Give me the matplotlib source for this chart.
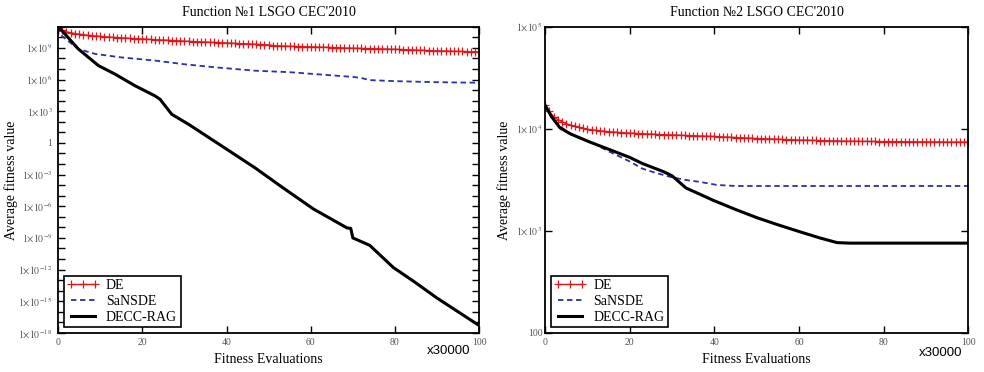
import numpy as np
import matplotlib
matplotlib.use("Agg")
import matplotlib.pyplot as plt
from matplotlib.ticker import FixedLocator, FuncFormatter, NullLocator, NullFormatter

plt.rcParams["font.family"] = ["Liberation Serif", "DejaVu Serif"]
plt.rcParams["mathtext.fontset"] = "stix"

# ---- data (log10 of average fitness) ----
EVALS = np.arange(101)  # x30000 evaluations

F1_DE = [
    10.85, 10.65, 10.52, 10.43, 10.36, 10.30, 10.25, 10.20, 10.16, 10.12, 10.09,
    10.06, 10.03, 10.00, 9.98, 9.95, 9.93, 9.90, 9.88, 9.86, 9.84,
    9.82, 9.80, 9.78, 9.76, 9.74, 9.72, 9.70, 9.68, 9.66, 9.64,
    9.62, 9.60, 9.59, 9.57, 9.55, 9.53, 9.52, 9.50, 9.48, 9.46,
    9.45, 9.43, 9.41, 9.39, 9.38, 9.36, 9.34, 9.32, 9.30, 9.28,
    9.22, 9.20, 9.18, 9.17, 9.15, 9.14, 9.13, 9.12, 9.11, 9.10,
    9.09, 9.07, 9.06, 9.05, 9.03, 9.02, 9.01, 8.99, 8.98, 8.97,
    8.96, 8.95, 8.94, 8.93, 8.92, 8.91, 8.90, 8.89, 8.88, 8.87,
    8.85, 8.84, 8.82, 8.81, 8.79, 8.78, 8.76, 8.75, 8.73, 8.72,
    8.71, 8.70, 8.69, 8.68, 8.67, 8.66, 8.65, 8.64, 8.63, 8.62,
]
F1_SANSDE_X = [0, 1, 4.8, 8.8, 15, 23, 30, 37.3, 46.8, 55, 60, 65, 70, 72, 74, 80, 90, 100]
F1_SANSDE = [11.0, 10.1, 8.9, 8.43, 8.1, 7.8, 7.45, 7.16, 6.84, 6.7,
             6.55, 6.4, 6.25, 6.15, 5.95, 5.85, 5.75, 5.7]
F1_DECC_X = [0, 1, 4.8, 9.6, 13.5, 18.3, 23, 24.2, 27, 31, 38.9, 46.8, 53.4, 60.6,
             68.6, 69.5, 70, 74, 79.6, 84.4, 90, 95, 100]
F1_DECC = [11.0, 10.6, 8.9, 7.32, 6.52, 5.41, 4.46, 4.14, 2.71, 1.76, -0.3, -2.37,
           -4.25, -6.25, -8.05, -8.1, -9.0, -9.7, -11.8, -13.1, -14.7, -16.0, -17.3]

F2_DE = [
    4.23, 4.17, 4.12, 4.09, 4.07, 4.05, 4.035, 4.025, 4.015, 4.005, 3.995,
    3.99, 3.985, 3.98, 3.976, 3.972, 3.969, 3.966, 3.963, 3.960, 3.958,
    3.956, 3.954, 3.952, 3.950, 3.948, 3.946, 3.944, 3.942, 3.941, 3.940,
    3.938, 3.937, 3.935, 3.934, 3.932, 3.931, 3.929, 3.928, 3.926, 3.925,
    3.923, 3.921, 3.919, 3.917, 3.915, 3.913, 3.911, 3.909, 3.907, 3.905,
    3.904, 3.902, 3.901, 3.899, 3.898, 3.896, 3.895, 3.893, 3.892, 3.890,
    3.889, 3.888, 3.887, 3.886, 3.885, 3.884, 3.883, 3.882, 3.881, 3.880,
    3.879, 3.879, 3.878, 3.878, 3.877, 3.877, 3.876, 3.876, 3.875, 3.875,
    3.875, 3.874, 3.874, 3.874, 3.873, 3.873, 3.873, 3.872, 3.872, 3.872,
    3.871, 3.871, 3.871, 3.871, 3.870, 3.870, 3.870, 3.870, 3.870, 3.870,
]
F2_SANSDE_X = [0, 2, 5.2, 8, 11.3, 15, 20, 23, 26, 29.5, 33, 36.6, 40.6, 45, 100]
F2_SANSDE = [4.23, 4.08, 3.97, 3.91, 3.86, 3.78, 3.68, 3.61, 3.57, 3.53, 3.50, 3.48,
             3.45, 3.44, 3.44]
F2_DECC_X = [0, 1.5, 3.5, 6, 10.6, 15, 20, 23, 28, 30, 33.3, 36, 39.7, 45, 50, 55,
             60.3, 65, 69, 72, 100]
F2_DECC = [4.23, 4.12, 4.01, 3.95, 3.87, 3.80, 3.72, 3.66, 3.58, 3.54, 3.42, 3.37,
           3.30, 3.21, 3.13, 3.06, 2.99, 2.93, 2.885, 2.88, 2.88]

X_TICKS = [0, 20, 40, 60, 80, 100]
TICK_GREY = "#555555"
DASH_BLUE = "#2b2fa8"


def sci_label(v, _pos):
    e = int(round(np.log10(v)))
    if e == 0:
        return "1"
    if e == 2:
        return "100"
    return r"$1{\times}10^{%d}$" % e


def style_axes(ax, title, ylab_x, ypad):
    ax.set_xlim(0, 100)
    ax.set_xticks(X_TICKS)
    ax.tick_params(which="both", direction="in", top=True, right=True,
                   length=5, width=1.0, labelsize=7, labelcolor=TICK_GREY, pad=4)
    ax.tick_params(axis="y", pad=ypad)
    for sp in ax.spines.values():
        sp.set_linewidth(1.3)
    ax.set_title(title, fontsize=10, pad=8)
    ax.set_xlabel("Fitness Evaluations", fontsize=10, labelpad=4)
    ax.set_ylabel("Average fitness value", fontsize=10)
    ax.yaxis.set_label_coords(ylab_x, 0.5)
    leg = ax.legend(loc="lower left", fontsize=10, fancybox=False, framealpha=1,
                    edgecolor="black", handlelength=2.3, borderaxespad=0.4,
                    borderpad=0.25, labelspacing=0.2, handletextpad=0.5,
                    numpoints=3)
    leg.get_frame().set_linewidth(1.2)


def draw(ax, de, sx, sv, dx, dv):
    ax.set_yscale("log")
    ax.plot(EVALS, 10.0 ** np.array(de), color="#e0161b", lw=1.0, marker="+",
            ms=6, mew=0.9, label="DE")
    ax.plot(sx, 10.0 ** np.array(sv), color=DASH_BLUE, lw=1.3, ls=(0, (3, 2)),
            label="SaNSDE")
    ax.plot(dx, 10.0 ** np.array(dv), color="black", lw=2.2, label="DECC-RAG")


fig = plt.figure(figsize=(9.84, 3.72), dpi=100)
ax1 = fig.add_axes([0.059, 0.105, 0.428, 0.823])
ax2 = fig.add_axes([0.554, 0.105, 0.430, 0.823])

draw(ax1, F1_DE, F1_SANSDE_X, F1_SANSDE, F1_DECC_X, F1_DECC)
ax1.set_ylim(10.0 ** -18, 10.0 ** 11)
ax1.yaxis.set_major_locator(FixedLocator(10.0 ** np.arange(-18, 10, 3)))
ax1.yaxis.set_minor_locator(FixedLocator(10.0 ** np.arange(-18, 12, 1)))
ax1.yaxis.set_major_formatter(FuncFormatter(sci_label))
ax1.yaxis.set_minor_formatter(NullFormatter())
style_axes(ax1, "Function \u21161 LSGO CEC'2010", -0.095, 4)
ax1.text(0.979, -0.04, "x30000", transform=ax1.transAxes, ha="right", va="top",
         fontsize=9.5, family="Liberation Sans")

draw(ax2, F2_DE, F2_SANSDE_X, F2_SANSDE, F2_DECC_X, F2_DECC)
ax2.set_ylim(100, 1e5)
ax2.yaxis.set_major_locator(FixedLocator([1e2, 1e3, 1e4, 1e5]))
ax2.yaxis.set_minor_locator(NullLocator())
ax2.yaxis.set_major_formatter(FuncFormatter(sci_label))
style_axes(ax2, "Function \u21162 LSGO CEC'2010", -0.08, 2)
ax2.text(0.986, -0.045, "x30000", transform=ax2.transAxes, ha="right", va="top",
         fontsize=9.5, family="Liberation Sans")

fig.savefig("out.png", dpi=100)
